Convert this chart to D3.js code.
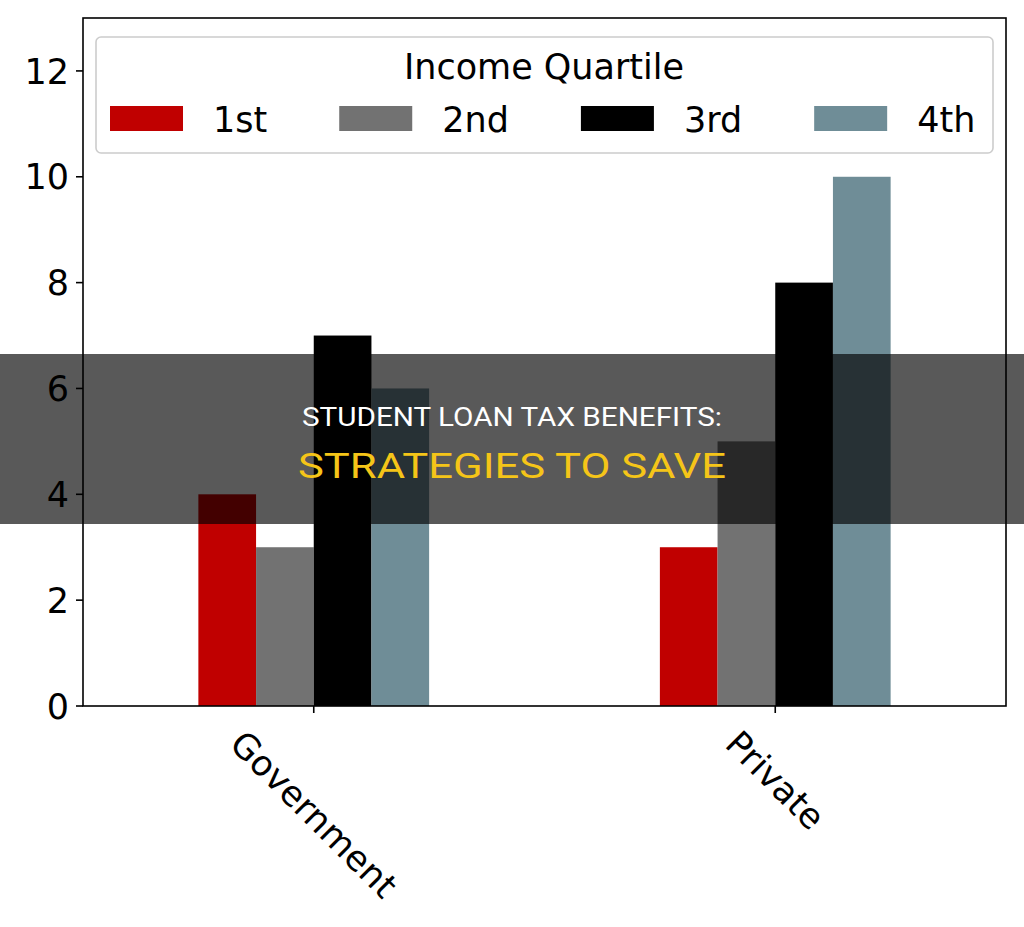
<html>
<head>
    <script src="https://d3js.org/d3.v7.min.js" charSet="utf-8"></script>
    <style>
        body { margin: 0; background: white; }
        .axis-text {
            font-family: "DejaVu Sans", sans-serif;
            font-size: 35px;
            fill: black;
        }
    </style>
</head>
<body>
<div id="vis_container"></div>
<script>
    // loan types on the x axis, one group of bars each
    let categories = ["Government", "Private"];

    // income quartiles = the series (legend entries)
    let quartiles = ["1st", "2nd", "3rd", "4th"];
    let quartile_colors = ["#c00000", "#727272", "#000000", "#6f8d97"];

    // values per quartile, in the order of categories
    let q1_values = [4, 3];
    let q2_values = [3, 5];
    let q3_values = [7, 8];
    let q4_values = [6, 10];
    let series = [q1_values, q2_values, q3_values, q4_values];

    let y_ticks = [0, 2, 4, 6, 8, 10, 12];

    let legend_title = "Income Quartile";
    let banner_line1 = "STUDENT LOAN TAX BENEFITS:";
    let banner_line2 = "STRATEGIES TO SAVE";

    let width = 1024, height = 927;
    let font_px = 35;
    // plot area edges
    let ax_left = 83, ax_right = 1006, ax_top = 18, ax_bottom = 706;

    let svg = d3.select("#vis_container")
        .append("svg")
        .attr("width", width)
        .attr("height", height);

    svg.append("rect").attr("width", width).attr("height", height).attr("fill", "white");

    // category positions like a pandas bar plot: 0, 1 with half-unit padding
    let x = d3.scaleLinear().domain([-0.5, categories.length - 0.5]).range([ax_left, ax_right]);
    let y = d3.scaleLinear().domain([0, 13]).range([ax_bottom, ax_top]);
    let bar_w = 0.5 / quartiles.length;

    // bars
    let rows = [];
    series.forEach(function(vals, qi) {
        vals.forEach(function(v, ci) {
            rows.push({cat: ci, q: qi, value: v});
        });
    });

    svg.selectAll(".bar")
        .data(rows)
        .enter()
        .append("rect")
        .attr("class", "bar")
        .attr("x", function(d) { return x(d.cat - 0.25 + d.q * bar_w); })
        .attr("width", function(d) { return x(bar_w) - x(0); })
        .attr("y", function(d) { return y(d.value); })
        .attr("height", function(d) { return y(0) - y(d.value); })
        .attr("fill", function(d) { return quartile_colors[d.q]; });

    // y axis ticks and labels
    let yaxis = svg.append("g");
    y_ticks.forEach(function(t) {
        yaxis.append("line")
            .attr("x1", ax_left - 7).attr("x2", ax_left)
            .attr("y1", y(t)).attr("y2", y(t))
            .attr("stroke", "black").attr("stroke-width", 1.6);
        yaxis.append("text")
            .attr("class", "axis-text")
            .attr("x", ax_left - 14)
            .attr("y", y(t))
            .attr("dy", "0.36em")
            .style("text-anchor", "end")
            .text(t);
    });

    // x axis ticks and rotated labels
    categories.forEach(function(c, i) {
        svg.append("line")
            .attr("x1", x(i)).attr("x2", x(i))
            .attr("y1", ax_bottom).attr("y2", ax_bottom + 7)
            .attr("stroke", "black").attr("stroke-width", 1.6);
        let lbl = svg.append("text")
            .attr("class", "axis-text")
            .style("text-anchor", "middle")
            .attr("dominant-baseline", "central")
            .text(c);
        let len = lbl.node().getComputedTextLength();
        let cy = 728 + (len + 0.75 * font_px) * 0.3536;
        lbl.attr("transform", "translate(" + x(i) + "," + cy + ") rotate(45)");
    });

    // frame
    svg.append("rect")
        .attr("x", ax_left).attr("y", ax_top)
        .attr("width", ax_right - ax_left).attr("height", ax_bottom - ax_top)
        .attr("fill", "none").attr("stroke", "black").attr("stroke-width", 1.6);

    // legend
    let legend = svg.append("g");
    legend.append("rect")
        .attr("x", 96).attr("y", 37)
        .attr("width", 897).attr("height", 116)
        .attr("rx", 5)
        .attr("fill", "white").attr("fill-opacity", 0.8)
        .attr("stroke", "#cccccc").attr("stroke-width", 1.6);
    legend.append("text")
        .attr("class", "axis-text")
        .attr("x", 544).attr("y", 79)
        .style("text-anchor", "middle")
        .text(legend_title);

    let lx = 110;
    quartiles.forEach(function(q, i) {
        legend.append("rect")
            .attr("x", lx).attr("y", 106)
            .attr("width", 73).attr("height", 25)
            .attr("fill", quartile_colors[i]);
        let t = legend.append("text")
            .attr("class", "axis-text")
            .attr("x", lx + 103).attr("y", 132)
            .text(q);
        lx = lx + 103 + t.node().getComputedTextLength() + 72;
    });

    // dark banner across the middle
    svg.append("rect")
        .attr("x", 0).attr("y", 354)
        .attr("width", width).attr("height", 170)
        .attr("fill", "black").attr("fill-opacity", 0.65);

    svg.append("text")
        .attr("x", 512).attr("y", 426)
        .style("text-anchor", "middle")
        .style("font-family", "Roboto, sans-serif")
        .style("font-size", "25px")
        .attr("textLength", 420)
        .attr("lengthAdjust", "spacingAndGlyphs")
        .attr("fill", "white")
        .text(banner_line1);

    svg.append("text")
        .attr("x", 512).attr("y", 478)
        .style("text-anchor", "middle")
        .style("font-family", "Roboto, sans-serif")
        .style("font-size", "35px")
        .attr("textLength", 428)
        .attr("lengthAdjust", "spacingAndGlyphs")
        .attr("fill", "#f5c518")
        .text(banner_line2);
</script>
</body>
</html>
